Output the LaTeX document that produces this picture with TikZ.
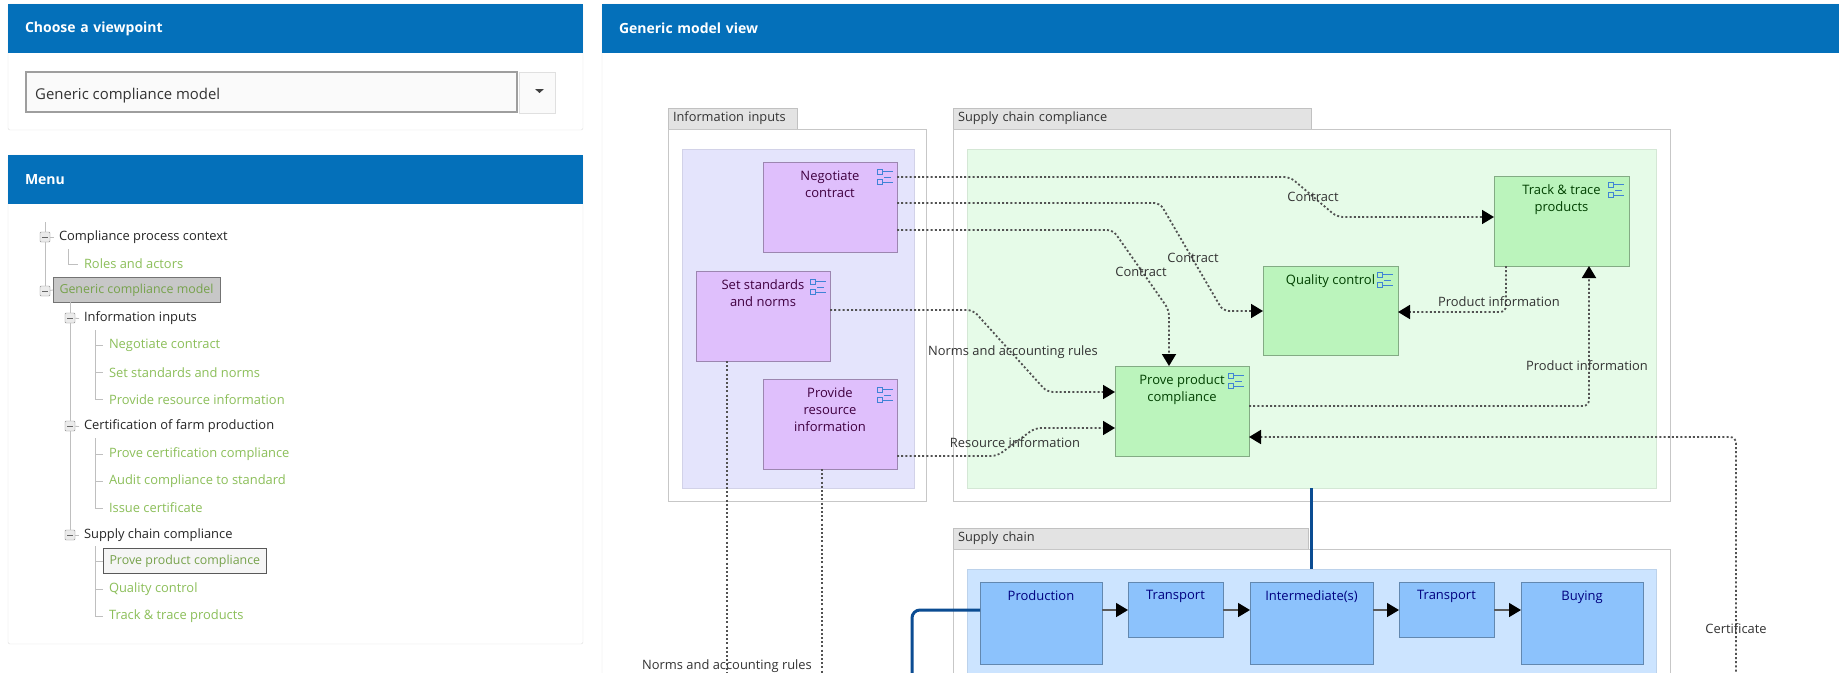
\documentclass[tikz,border=0pt]{standalone}
\usepackage{fontspec}
\setmainfont{Open Sans}
\usetikzlibrary{arrows.meta}

\definecolor{headblue}{HTML}{0470BA}
\definecolor{linkblue}{HTML}{0B4C92}
\definecolor{edgegray}{HTML}{DEDEDE}
\definecolor{tabgray}{HTML}{E3E3E3}
\definecolor{leafgreen}{HTML}{8CBF5A}
\definecolor{iconblue}{HTML}{3F83D6}
\definecolor{lanepurple}{HTML}{E4E4FC}
\definecolor{lanegreen}{HTML}{E6FBE8}
\definecolor{laneblue}{HTML}{CCE4FF}
\definecolor{purplebox}{HTML}{DFBFFC}
\definecolor{greenbox}{HTML}{BBF4BC}
\definecolor{bluebox}{HTML}{8CC2FC}

\tikzset{
  panel/.style 2 args={draw=edgegray, fill=white, rounded corners=2pt, anchor=north west,
    inner sep=0, outer sep=0, minimum width=#1, minimum height=#2},
  header/.style={fill=headblue, anchor=north west, inner sep=0, outer sep=0, inner xsep=17pt,
    minimum height=49pt, text width=#1, align=left, text=white,
    font=\fontsize{14}{15}\selectfont\bfseries},
  tabbar/.style={draw=tabgray!85!black, fill=tabgray, anchor=south west, inner sep=0, outer sep=0,
    inner xsep=5pt, minimum height=21pt, text width=#1, align=left, text=black!80,
    font=\fontsize{12.8}{15}\selectfont},
  frame/.style 2 args={draw=black!22, line width=1pt, fill=white, anchor=north west,
    inner sep=0, outer sep=0, minimum width=#1, minimum height=#2},
  lane/.style n args={3}{draw=#3!92!black, line width=.6pt, fill=#3, anchor=north west,
    inner sep=0, outer sep=0, minimum width=#1, minimum height=#2},
  activity/.style n args={3}{draw=#3!70!black, line width=.8pt, fill=#3, anchor=north west,
    inner sep=0, outer sep=0, minimum width=#1, minimum height=#2},
  boxtext/.style={anchor=north, yshift=-8.5pt, align=center, inner sep=0,
    font=\fontsize{13}{17}\selectfont},
  purpletext/.style={boxtext, text=violet!50!black},
  greentext/.style={boxtext, text=green!25!black},
  bluetext/.style={boxtext, text=blue!50!black},
  flowtext/.style={inner sep=0, text=black!80, font=\fontsize{12.9}{15}\selectfont},
  infoflow/.style={draw=black!68, line width=1.8pt, dash pattern=on 2pt off 2.2pt, rounded corners=6pt},
  infoarrow/.style={infoflow, -{Triangle[length=12pt,width=14pt,black]}},
  chainarrow/.style={draw=black!65, line width=1.5pt, -{Triangle[length=12pt,width=14pt,black]}},
  expander/.style={draw=black!45, fill=black!8, rounded corners=1pt, minimum size=10pt, inner sep=0,
    outer sep=0, path picture={\draw[black!60, line width=.7pt]
      ([xshift=2pt]path picture bounding box.west) -- ([xshift=-2pt]path picture bounding box.east);}},
  treeline/.style={draw=black!25, line width=.8pt},
  branch/.style={anchor=west, inner sep=0, outer xsep=5pt, text=black!85, font=\fontsize{12.9}{15}\selectfont},
  leaf/.style={anchor=west, inner sep=0, outer xsep=6pt, text=leafgreen, font=\fontsize{12.9}{15}\selectfont},
  picked/.style={anchor=west, draw=#1, inner xsep=6.5pt, inner ysep=0, outer sep=0, minimum height=25pt,
    text=leafgreen!85!black, font=\fontsize{12.4}{15}\selectfont},
  subicon/.pic={
    \draw[iconblue, line width=.7pt] (-8,-8) rectangle (-3,-3) (-8,2) rectangle (-3,7)
      (-3,-6) -- (8,-6) (-1,0) -- (6,0) (-3,5) -- (8,5);
  }
}

\begin{document}
\begin{tikzpicture}[x=1pt, y=-1pt]
   \clip (0,0) rectangle (1839,672);

   % left panels
   \node[panel={575pt}{126pt}] (viewpoint) at (8,4) {};
   \node[header=541pt] (viewpointhead) at (8,4) {Choose a viewpoint};
   \node[draw=black!38, line width=1.3pt, fill=black!2, anchor=north west, inner sep=0, outer sep=0,
     minimum width=491pt, minimum height=40pt,
     label={[anchor=west, xshift=9pt, yshift=-4pt, inner sep=0, text=black!80, font=\fontsize{14.9}{17}\selectfont]west:Generic compliance model}]
     (select) at (26,72) {};
   \node[draw=black!12, fill=black!2, anchor=north west, inner sep=0, outer sep=0,
     minimum width=36pt, minimum height=41pt] (dropdown) at (519,72) {};
   \fill[black!75] (535,89) -- (544,89) -- (539.5,93) -- cycle;

   \node[panel={575pt}{489pt}] (menu) at (8,155) {};
   \node[header=541pt] (menuhead) at (8,155) {Menu};

   % menu tree
   \coordinate (treetop) at (45,222);
   \coordinate (genericbar) at (70,302);
   \coordinate (rolestop) at (68,249);
   \coordinate (inputstop) at (95,330);
   \coordinate (certtop) at (95,438);
   \coordinate (chaintop) at (95,546);
   \node[expander] (expcontext) at (45,237) {};
   \node[expander] (expgeneric) at (45,291) {};
   \node[expander] (expinputs) at (70,318) {};
   \node[expander] (expcert) at (70,426) {};
   \node[expander] (expchain) at (70,535) {};
   \node[branch] (mcontext) at (54,237) {Compliance process context};
   \node[picked=black!55, fill=black!22] (mgeneric) at (53,290) {Generic compliance model};
   \node[branch] (minputs) at (79,318.5) {Information inputs};
   \node[branch] (mcert) at (79,426.5) {Certification of farm production};
   \node[branch] (mchain) at (79,535) {Supply chain compliance};
   \node[picked=black!65, fill=black!4] (mprove) at (103,561) {Prove product compliance};
   \draw[treeline] (treetop) -- (expcontext);
   \draw[treeline] (expcontext) -- (expgeneric);
   \draw[treeline] (genericbar) -- (expinputs);
   \draw[treeline] (expinputs) -- (expcert);
   \draw[treeline] (expcert) -- (expchain);
   \draw[treeline] (expcontext) -- (mcontext.west);
   \draw[treeline] (expgeneric) -- (mgeneric.west);
   \draw[treeline] (expinputs) -- (minputs.west);
   \draw[treeline] (expcert) -- (mcert.west);
   \draw[treeline] (expchain) -- (mchain.west);
   \draw[treeline] (chaintop) |- (mprove.west);
   \node[leaf] (mroles) at (78,264) {Roles and actors};
   \draw[treeline] (rolestop) |- (mroles.west);
   \foreach \nm/\yy/\txt/\tp in {negotiate/345.5/Negotiate contract/inputstop,
       setnorms/372.5/Set standards and norms/inputstop,
       provide/399.5/Provide resource information/inputstop,
       provecert/454/Prove certification compliance/certtop,
       audit/481/Audit compliance to standard/certtop,
       issue/508/Issue certificate/certtop,
       quality/589/Quality control/chaintop,
       track/616/Track \& trace products/chaintop} {
     \node[leaf] (m\nm) at (103,\yy) {\txt};
     \draw[treeline] (\tp) |- (m\nm.west);
   }

   % model view
   \node[panel={1260pt}{700pt}] (view) at (602,4) {};
   \node[header=1220pt] (viewhead) at (602,4) {Generic model view};

   \node[tabbar=119pt] (inputstab) at (668,129) {Information inputs};
   \node[frame={258pt}{372pt}] (inputsframe) at (668,129) {};
   \node[lane={232pt}{339pt}{lanepurple}] (inputslane) at (682,149) {};
   \node[tabbar=348pt] (compliancetab) at (953,129) {Supply chain compliance};
   \node[frame={717pt}{372pt}] (complianceframe) at (953,129) {};
   \node[lane={689pt}{339pt}{lanegreen}] (compliancelane) at (967,149) {};
   \node[tabbar=345pt] (chaintab) at (953,549) {Supply chain};
   \node[frame={717pt}{140pt}] (chainframe) at (953,549) {};
   \node[lane={689pt}{120pt}{laneblue}] (chainlane) at (967,569) {};

   \node[activity={134pt}{90pt}{purplebox}, label={[purpletext]north:Negotiate\\contract}] (negotiate) at (763,162) {};
   \node[activity={134pt}{90pt}{purplebox}, label={[purpletext]north:Set standards\\and norms}] (setnorms) at (696,271) {};
   \node[activity={134pt}{90pt}{purplebox}, label={[purpletext]north:Provide\\resource\\information}] (provide) at (763,379) {};
   \node[activity={134pt}{90pt}{greenbox}, label={[greentext]north:Prove product\\compliance}] (prove) at (1115,366) {};
   \node[activity={135pt}{89pt}{greenbox}, label={[greentext]north:Quality control}] (quality) at (1263,266) {};
   \node[activity={135pt}{90pt}{greenbox}, label={[greentext]north:Track \& trace\\products}] (track) at (1494,176) {};
   \node[activity={122pt}{82pt}{bluebox}, label={[bluetext]north:Production}] (production) at (980,582) {};
   \node[activity={95pt}{55pt}{bluebox}, label={[bluetext]north:Transport}] (transporta) at (1128,582) {};
   \node[activity={123pt}{82pt}{bluebox}, label={[bluetext]north:Intermediate(s)}] (intermediate) at (1250,582) {};
   \node[activity={95pt}{55pt}{bluebox}, label={[bluetext]north:Transport}] (transportb) at (1399,582) {};
   \node[activity={122pt}{82pt}{bluebox}, label={[bluetext]north:Buying}] (buying) at (1521,582) {};

   \pic at (885,177) {subicon};
   \pic at (818,287) {subicon};
   \pic at (885,395) {subicon};
   \pic at (1236,381) {subicon};
   \pic at (1385,280) {subicon};
   \pic at (1616,190) {subicon};

   % chain
   \draw[chainarrow] (production.east |- 0,610) -- (transporta.west |- 0,610);
   \draw[chainarrow] (transporta.east |- 0,610) -- (intermediate.west |- 0,610);
   \draw[chainarrow] (intermediate.east |- 0,610) -- (transportb.west |- 0,610);
   \draw[chainarrow] (transportb.east |- 0,610) -- (buying.west |- 0,610);

   % links between the groups
   \coordinate (linkend) at (912,680);
   \draw[linkblue, line width=3pt] (compliancelane.south -| 1311,0) -- (chainlane.north -| 1311,0);
   \draw[linkblue, line width=3pt, rounded corners=8pt] (production.west |- 0,610) -| (linkend);

   % information flows
   \coordinate (normsend) at (727,680);
   \coordinate (resourceend) at (822,680);
   \coordinate (certstart) at (1736,680);
   \draw[infoarrow] (negotiate.east |- 0,177) -- (1290,177) -- (1337,217) -- (track.west |- 0,217);
   \draw[infoarrow] (negotiate.east |- 0,203) -- (1160,203) -- (1223,311) -- (quality.west |- 0,311);
   \draw[infoarrow] (negotiate.east |- 0,230) -- (1113,230) -- (1169,310) -- (prove.north -| 1169,0);
   \draw[infoarrow] (setnorms.east |- 0,310) -- (973,310) -- (1047,392) -- (prove.west |- 0,392);
   \draw[infoarrow] (provide.east |- 0,456) -- (997,456) -- (1035,428) -- (prove.west |- 0,428);
   \draw[infoarrow] (prove.east |- 0,406) -| (track.south -| 1589,0);
   \draw[infoarrow] (track.south -| 1506,0) |- (quality.east |- 0,312);
   \draw[infoarrow] (certstart) |- (prove.east |- 0,437);
   \draw[infoflow] (setnorms.south -| 727,0) -- (normsend);
   \draw[infoflow] (provide.south -| 822,0) -- (resourceend);

   \node[flowtext] (contractA) at (1313,197) {Contract};
   \node[flowtext] (contractB) at (1193,258) {Contract};
   \node[flowtext] (contractC) at (1141,272) {Contract};
   \node[flowtext] (normsA) at (1013,352) {Norms and accounting rules};
   \node[flowtext] (resourceA) at (1015,443) {Resource information};
   \node[flowtext] (productA) at (1499,302) {Product information};
   \node[flowtext] (productB) at (1587,366) {Product information};
   \node[flowtext] (certificate) at (1736,629) {Certificate};
   \node[flowtext] (normsB) at (727,666) {Norms and accounting rules};
\end{tikzpicture}
\end{document}
